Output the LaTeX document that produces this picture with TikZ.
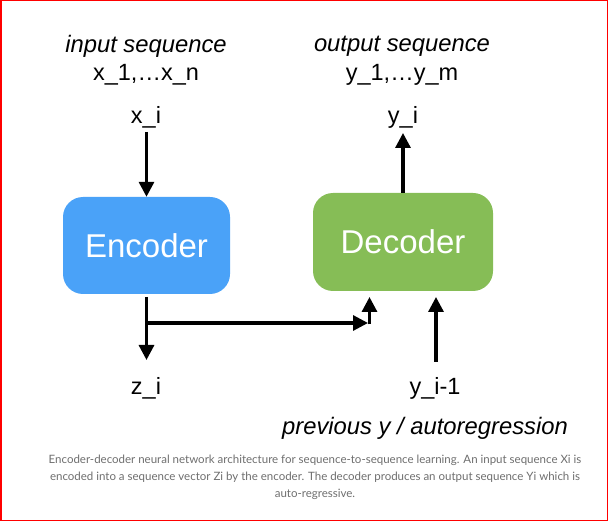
\documentclass[tikz,border=0pt]{standalone}
\usepackage{fontspec}
\setmainfont{Liberation Sans}
\newfontfamily\capfont{Lato}
\usetikzlibrary{arrows.meta}
\definecolor{encblue}{HTML}{4AA2F8}
\definecolor{decgreen}{HTML}{86BD56}
\definecolor{capgray}{HTML}{6E6E6E}
\begin{document}
\begin{tikzpicture}[x=1pt,y=-1pt,
  lbl/.style={font=\fontsize{23.5}{26}\selectfont, inner sep=0pt},
  ital/.style={font=\fontsize{23.8}{26}\selectfont\itshape, inner sep=0pt},
  boxnode/.style={rounded corners=20pt, text=white, font=\fontsize{33}{36}\selectfont, inner sep=0pt},
  conn/.style={line width=3.2pt, -{Triangle[length=15pt,width=15pt]}},
  capnode/.style={font=\capfont\fontsize{11.5}{17}\selectfont, text=capgray, align=center, inner sep=0pt}
]
\useasboundingbox (0,0) rectangle (608,521);
\draw[red, line width=1.5pt] (0.75,0.75) rectangle (607.25,520.25);

\node[ital] (inseq) at (146,46) {input sequence};
\node[lbl] (xs) at (146,75) {x\_1,…x\_n};
\node[ital] (outseq) at (402,46) {output sequence};
\node[lbl] (ys) at (402,75) {y\_1,…y\_m};
\node[lbl] (xi) at (146,117) {x\_i};
\node[lbl] (yi) at (403,117) {y\_i};

\node[boxnode, fill=encblue, minimum width=167pt, minimum height=97pt] (enc) at (146.5,245.5) {Encoder};
\node[boxnode, fill=decgreen, minimum width=180pt, minimum height=98pt] (dec) at (403,242) {Decoder};

\node[lbl] (zi) at (146,388) {z\_i};
\node[lbl] (yim) at (435,388) {y\_i-1};
\node[ital] (prev) at (425,428) {previous y / autoregression};

\node[capnode] (cap) at (315,477) {Encoder-decoder neural network architecture for sequence-to-sequence learning. An input sequence Xi is\\encoded into a sequence vector Zi by the encoder. The decoder produces an output sequence Yi which is\\auto-regressive.};

\coordinate (xitop) at (146.5,132);
\coordinate (encbot) at (146.5,297);
\coordinate (ztip) at (146.5,360);
\coordinate (br) at (146.5,323);
\coordinate (hend) at (368,323);
\coordinate (ubase) at (369.5,324.5);
\coordinate (utip) at (369.5,297);
\coordinate (ytop) at (403,133);
\coordinate (rbase) at (436,362);
\coordinate (rtip) at (436,297);

\draw[conn] (xitop) -- (enc.north);
\draw[conn] (dec.north) -- (ytop);
\draw[conn] (encbot) -- (ztip);
\draw[conn] (br) -- (hend);
\draw[conn] (ubase) -- (utip);
\draw[conn] (rbase) -- (rtip);
\end{tikzpicture}
\end{document}
